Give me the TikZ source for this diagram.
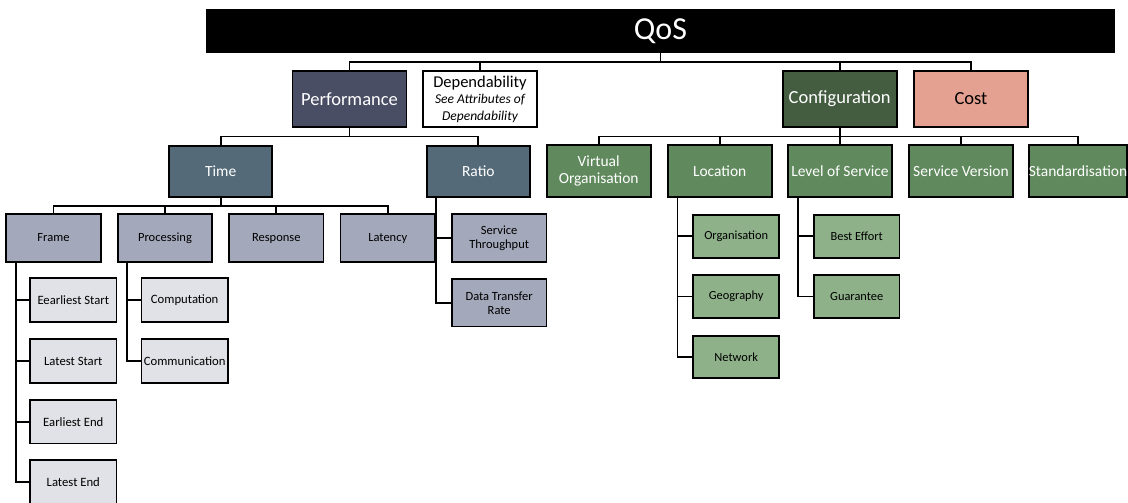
\documentclass[tikz,border=0pt]{standalone}
\usepackage{fontspec}
\setmainfont{Carlito}
\usetikzlibrary{calc}
\definecolor{perfc}{HTML}{4A4E65}
\definecolor{timec}{HTML}{546A78}
\definecolor{lavc}{HTML}{A3A8BA}
\definecolor{greyc}{HTML}{E1E2E7}
\definecolor{confc}{HTML}{445D41}
\definecolor{gmidc}{HTML}{608A5D}
\definecolor{glitec}{HTML}{8EB189}
\definecolor{costc}{HTML}{E4A090}
\begin{document}
\begin{tikzpicture}[x=1pt,y=-1pt,
  box/.style={draw=black, line width=1.8pt, inner sep=1pt, align=center},
  link/.style={draw=black, line width=1.8pt, line join=miter},
  lvone/.style={box, minimum width=114pt, minimum height=56.6pt, font=\fontsize{18.5}{21}\selectfont},
  lvtwo/.style={box, fill=timec, text=white, minimum width=103pt, minimum height=51pt, font=\fontsize{15.5}{17}\selectfont},
  gtwo/.style={box, fill=gmidc, text=white, minimum width=104pt, minimum height=51.5pt, font=\fontsize{15.5}{17.3}\selectfont},
  lvthree/.style={box, fill=lavc, minimum width=94.5pt, minimum height=47.4pt, font=\fontsize{12.5}{14}\selectfont},
  lvfour/.style={box, fill=greyc, minimum width=86.5pt, minimum height=43.4pt, font=\fontsize{12.7}{14}\selectfont},
  gthree/.style={box, fill=glitec, minimum width=85.7pt, minimum height=42.7pt, font=\fontsize{12.4}{14}\selectfont},
]
\useasboundingbox (0,0) rectangle (1128,503);

% root bar
\node[fill=black, text=white, minimum width=909pt, minimum height=44pt, inner sep=0pt,
      font=\fontsize{32}{34}\selectfont] (qos) at (660.5,31.3) {QoS};

% first level
\node[lvone, fill=perfc, text=white] (perf) at (349.5,99) {Performance};
\node[lvone, fill=white, inner sep=0pt, font=\fontsize{13.5}{16.5}\selectfont\itshape] (dep) at (480,99)
  {{\fontsize{16.5}{16.5}\selectfont\upshape Dependability}\\
   See Attributes of\\
   Dependability};
\node[lvone, fill=confc, text=white] (conf) at (839.7,99) {Configuration};
\node[lvone, fill=costc] (cost) at (971,99) {Cost};

\coordinate (busA) at (0,61.7);
\draw[link] (qos.south) -- (qos.south |- busA);
\foreach \c in {perf,dep,conf,cost} \draw[link] (qos.south |- busA) -| (\c.north);

% performance branch
\node[lvtwo] (time) at (220.7,171.2) {Time};
\node[lvtwo] (ratio) at (478.3,171.2) {Ratio};
\coordinate (busB) at (0,136.5);
\draw[link] (perf.south) -- (perf.south |- busB);
\foreach \c in {time,ratio} \draw[link] (perf.south |- busB) -| (\c.north);

% configuration branch
\node[gtwo] (vo) at (598.7,171) {Virtual\\Organisation};
\node[gtwo] (loc) at (719.7,171) {Location};
\node[gtwo] (los) at (840,171) {Level of Service};
\node[gtwo] (sv) at (961,171) {Service Version};
\node[gtwo, minimum width=96pt, inner sep=0pt] (std) at (1078,171) {Standardisation};
\draw[link] (conf.south) -- (conf.south |- busB);
\foreach \c in {vo,loc,los,sv,std} \draw[link] (conf.south |- busB) -| (\c.north);

% time branch
\node[lvthree] (frame) at (53.5,238) {Frame};
\node[lvthree] (proc) at (165,238) {Processing};
\node[lvthree] (resp) at (276.3,238) {Response};
\node[lvthree] (lat) at (387.8,238) {Latency};
\coordinate (busC) at (0,206);
\draw[link] (time.south) -- (time.south |- busC);
\foreach \c in {frame,proc,resp,lat} \draw[link] (time.south |- busC) -| (\c.north);

% ratio branch
\node[lvthree] (thr) at (499.2,238) {Service\\Throughput};
\node[lvthree] (dtr) at (499.2,302.8) {Data Transfer\\Rate};
\coordinate (ratioS) at ($(ratio.south west)+(10,0)$);
\draw[link] (ratioS) |- (thr.west);
\draw[link] (ratioS) |- (dtr.west);

% frame branch
\node[lvfour] (es) at (73.3,300) {Eearliest Start};
\node[lvfour] (ls) at (73.3,361) {Latest Start};
\node[lvfour] (ee) at (73.3,421.7) {Earliest End};
\node[lvfour] (le) at (73.3,482) {Latest End};
\coordinate (frameS) at ($(frame.south west)+(10.7,0)$);
\foreach \c in {es,ls,ee,le} \draw[link] (frameS) |- (\c.west);

% processing branch
\node[lvfour, inner sep=0pt] (comp) at (184.7,300) {Computation};
\node[lvfour, inner sep=0pt] (comm) at (184.7,361) {Communication};
\coordinate (procS) at ($(proc.south west)+(10,0)$);
\foreach \c in {comp,comm} \draw[link] (procS) |- (\c.west);

% location branch
\node[gthree] (org) at (736.2,236.3) {Organisation};
\node[gthree] (geo) at (736.2,296.5) {Geography};
\node[gthree] (net) at (736.2,357) {Network};
\coordinate (locS) at ($(loc.south west)+(10.6,0)$);
\foreach \c in {org,geo,net} \draw[link] (locS) |- (\c.west);

% level of service branch
\node[gthree] (best) at (856.7,236.3) {Best Effort};
\node[gthree] (guar) at (856.7,296.5) {Guarantee};
\coordinate (losS) at ($(los.south west)+(11,0)$);
\foreach \c in {best,guar} \draw[link] (losS) |- (\c.west);
\end{tikzpicture}
\end{document}
